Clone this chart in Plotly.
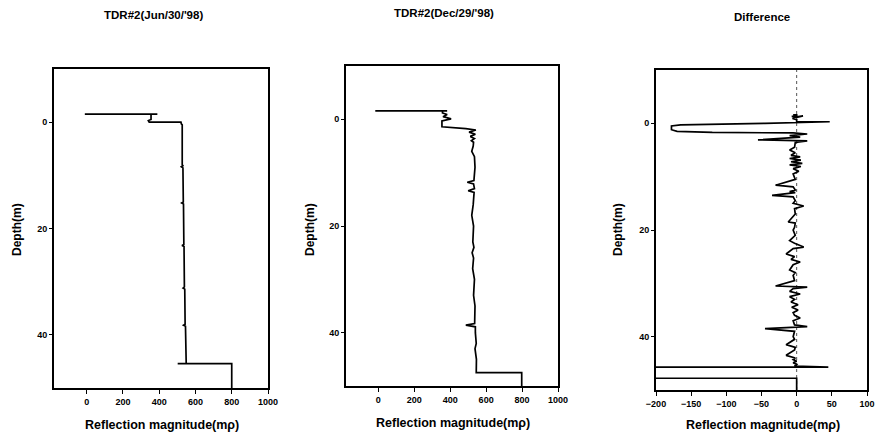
import plotly.graph_objects as go

# ---------------- data ----------------
titles = ["TDR#2(Jun/30/'98)", "TDR#2(Dec/29/'98)", "Difference"]
x_title = "Reflection magnitude(mρ)"
y_title = "Depth(m)"

mag_ticks = [0, 200, 400, 600, 800, 1000]
diff_ticks = [-200, -150, -100, -50, 0, 50, 100]
depth_ticks = [0, 20, 40]

# Jun/30/'98 profile (reflection magnitude vs depth)
jun_mag = [-10, 390, 355, 355, 340, 345, 520, 522, 527, 527, 531, 522, 531, 533, 524, 534,
           536, 526, 537, 539, 532, 541, 543, 534, 545, 549, 502, 800, 800]
jun_depth = [-1.5, -1.5, -1.5, -0.5, -0.3, 0.0, 0.0, 0.3, 0.5, 8.0, 8.2, 8.4, 8.6, 15.0, 15.2, 15.4,
             23.0, 23.2, 23.4, 31.0, 31.2, 31.4, 38.0, 38.2, 38.4, 45.4, 45.4, 45.4, 50.0]

# Dec/29/'98 profile
dec_mag = [-17, 383, 357, 357, 383, 360, 405, 354, 354, 487, 543, 505, 540, 512, 535, 518, 530,
           528, 520, 535, 538, 532, 495, 530, 535, 500, 533, 528, 520, 530, 526, 532, 522, 530,
           525, 535, 530, 538, 536, 487, 540, 540, 545, 538, 546, 545, 798, 798]
dec_depth = [-1.6, -1.6, -1.6, -1.2, -0.9, -0.5, -0.1, 0.3, 1.4, 1.75, 2.0, 2.4, 2.8, 3.2, 3.6, 4.0,
             4.3, 5.0, 6.0, 7.0, 9.0, 11.5, 11.8, 12.1, 13.0, 13.4, 13.7, 16.0, 18.0, 20.0, 23.0,
             24.0, 25.0, 26.0, 28.0, 30.0, 33.0, 35.0, 38.3, 38.6, 38.9, 40.0, 42.0, 43.0, 45.0,
             47.5, 47.5, 50.0]

# Difference (Dec - Jun)
diff_mag = [-5, 0, 0, -7, 0, 9, 0, -6, 0, 0, 47, -45, -165, -178, -178, -170, -120, -5, 15, -10,
            5, -55, 15, -2, -3, -10, -2, -8, 5, -10, 6, -8, 8, -10, 6, -5, 3, -5, -2, -30, -5, -2,
            -10, -2, -35, -5, -2, -5, 10, -3, -2, -12, -2, -3, -5, -2, -10, -3, 10, -5, -15, -3,
            -8, 5, -5, -10, -2, -5, -3, -30, 15, -5, -10, 5, -10, -3, -8, 2, -7, 2, -5, -3, 5,
            -5, -3, 15, -45, -3, -5, -3, -15, -2, -3, -15, -2, -5, 0, -5, 0, -3, 45, -260, -260,
            0, 0]
diff_depth = [-1.6, -1.6, -1.4, -1.3, -1.2, -1.4, -1.1, -0.9, -0.7, -0.3, -0.3, 0.0, 0.3, 0.5,
              1.2, 1.5, 1.7, 1.8, 2.0, 2.3, 2.6, 3.1, 3.3, 3.6, 4.5, 5.0, 5.5, 6.0, 6.3, 6.6, 6.9,
              7.2, 7.5, 7.8, 8.1, 8.5, 9.0, 9.5, 10.5, 11.6, 11.9, 12.5, 12.8, 13.0, 13.5, 13.8,
              14.5, 15.0, 15.5, 16.0, 17.0, 18.5, 18.7, 19.5, 20.0, 21.0, 22.0, 22.5, 23.2, 23.5,
              24.5, 25.0, 25.5, 26.0, 26.5, 27.5, 28.0, 28.5, 29.5, 30.5, 30.7, 31.0, 31.5, 32.0,
              32.5, 33.0, 33.5, 34.0, 34.5, 35.0, 35.5, 36.0, 36.5, 37.0, 37.8, 38.1, 38.5, 39.0,
              40.0, 40.5, 41.5, 42.0, 42.5, 43.5, 44.0, 44.3, 44.6, 44.9, 45.2, 45.5, 45.7, 45.7,
              47.8, 47.8, 50.0]

# ---------------- figure ----------------
W, H = 879, 441
FONT = "Liberation Sans, Arial, Helvetica, sans-serif"


def px(x):
    return x / W


def py(y):
    return 1 - y / H


panels = [
    dict(x0=54, x1=268, top=69, bot=388, xrange=[-180, 1000], ticks=mag_ticks),
    dict(x0=346, x1=558, top=66, bot=386, xrange=[-180, 1000], ticks=mag_ticks),
    dict(x0=656, x1=867, top=70, bot=390, xrange=[-200, 100], ticks=diff_ticks),
]

fig = go.Figure()
series = [(jun_mag, jun_depth), (dec_mag, dec_depth), (diff_mag, diff_depth)]
for i, (xs, ys) in enumerate(series):
    sfx = "" if i == 0 else str(i + 1)
    fig.add_trace(go.Scatter(x=xs, y=ys, mode="lines",
                             line=dict(color="black", width=1.7),
                             xaxis="x" + sfx, yaxis="y" + sfx, showlegend=False,
                             hoverinfo="skip"))

layout = dict(width=W, height=H, margin=dict(l=0, r=0, t=0, b=0, autoexpand=False),
              paper_bgcolor="white", plot_bgcolor="white", showlegend=False,
              font=dict(family=FONT, color="black"))

for i, p in enumerate(panels):
    sfx = "" if i == 0 else str(i + 1)
    layout["xaxis" + sfx] = dict(
        domain=[px(p["x0"]), px(p["x1"])], range=p["xrange"], anchor="y" + sfx,
        tickvals=p["ticks"], ticks="outside", ticklen=4, tickwidth=1, tickcolor="black",
        showline=True, linecolor="black", linewidth=2, mirror=True, automargin=False,
        showgrid=False, zeroline=False,
        tickfont=dict(family=FONT, size=9, color="black", weight="bold"))
    layout["yaxis" + sfx] = dict(
        domain=[py(p["bot"]), py(p["top"])], range=[50, -10], anchor="x" + sfx,
        tickvals=depth_ticks, ticks="outside", ticklen=3, tickwidth=1, tickcolor="black",
        showline=True, linecolor="black", linewidth=2, mirror=True, automargin=False,
        showgrid=False, zeroline=False,
        tickfont=dict(family=FONT, size=9, color="black", weight="bold"))

fig.update_layout(**layout)

# dotted zero line in the difference panel
fig.add_shape(type="line", xref="x3", yref="y3 domain", x0=0, x1=0, y0=0, y1=1,
              line=dict(color="#555555", width=1, dash="dot"), layer="below")

# titles and axis titles
title_pos = [(153, 15), (444, 13), (762, 17)]
xtitle_pos = [(162, 425), (453, 423), (763, 425)]
ytitle_pos = [(17, 230), (310, 230), (618, 230)]
for i in range(3):
    common = dict(xref="paper", yref="paper", showarrow=False,
                  xanchor="center", yanchor="middle")
    fig.add_annotation(text=titles[i], x=px(title_pos[i][0]), y=py(title_pos[i][1]),
                       font=dict(family=FONT, size=11.5, color="black", weight="bold"),
                       **common)
    fig.add_annotation(text=x_title, x=px(xtitle_pos[i][0]), y=py(xtitle_pos[i][1]),
                       font=dict(family=FONT, size=12.5, color="black", weight="bold"),
                       **common)
    fig.add_annotation(text=y_title, x=px(ytitle_pos[i][0]), y=py(ytitle_pos[i][1]),
                       textangle=-90,
                       font=dict(family=FONT, size=12, color="black", weight="bold"),
                       **common)

fig.write_html("out.html",
               config={"displayModeBar": False},
               post_script="document.body.style.margin='0';document.body.style.padding='0';"
                           "document.body.style.overflow='hidden';")
